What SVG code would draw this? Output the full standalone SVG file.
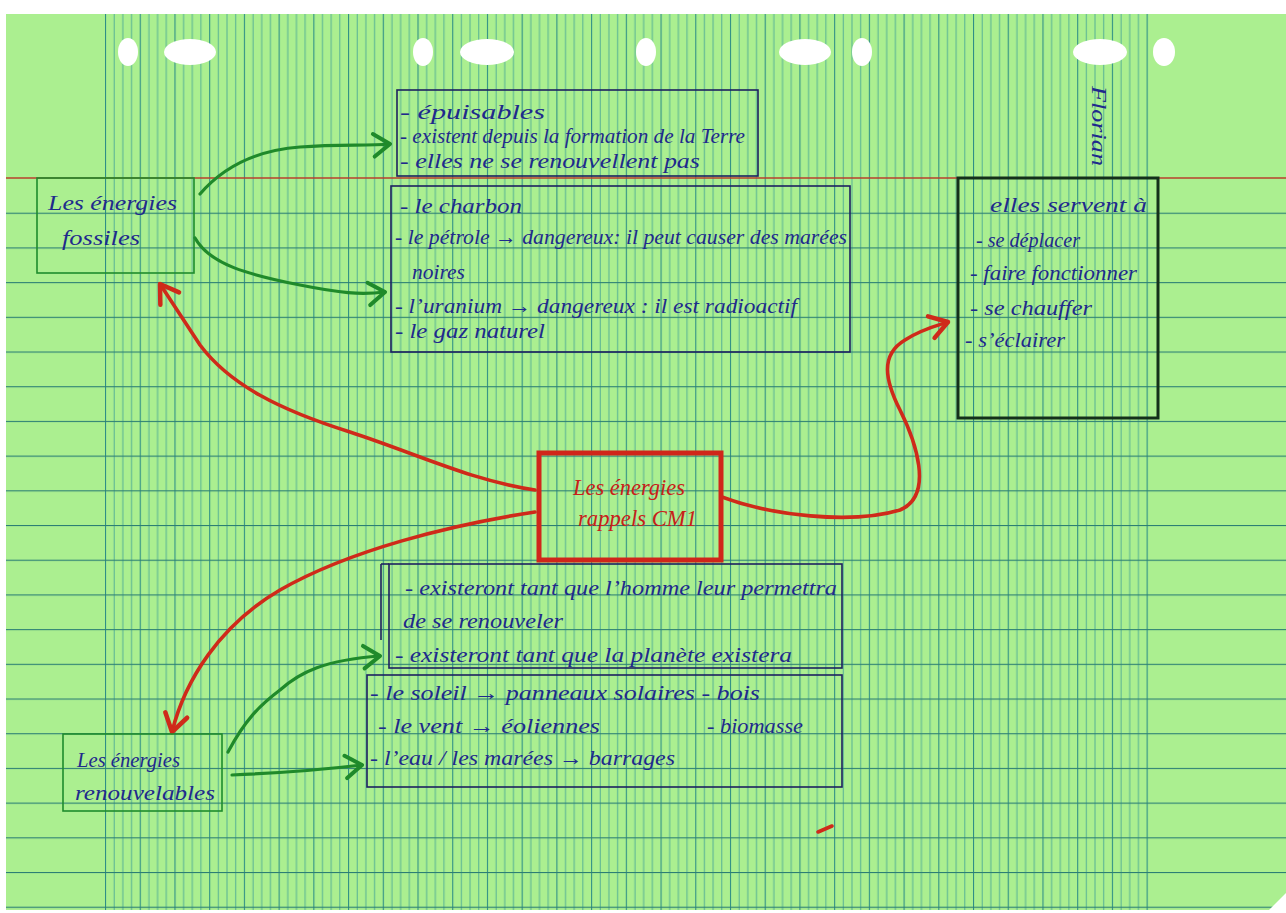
<svg xmlns="http://www.w3.org/2000/svg" width="1286" height="913" viewBox="0 0 1286 913">
<defs>
<style>
.ink{font-family:"Liberation Serif","DejaVu Serif",serif;font-style:italic;fill:#1f2a8c;font-size:21px}
.red{font-family:"Liberation Serif","DejaVu Serif",serif;font-style:italic;fill:#c8201a;font-size:23px}
.navybox{fill:none;stroke:#1d2160;stroke-width:1.6}
.greenbox{fill:none;stroke:#1f8c2c;stroke-width:1.6}
.g{fill:none;stroke:#1f8a2a;stroke-width:3.2;stroke-linecap:round;stroke-linejoin:round}
.r{fill:none;stroke:#cf2a1a;stroke-width:3.6;stroke-linecap:round;stroke-linejoin:round}
.hole{fill:#ffffff}
</style>
<pattern id="vlines" patternUnits="userSpaceOnUse" x="105" y="0" width="34.72" height="20">
<line x1="0.5" y1="0" x2="0.5" y2="20" stroke="#2f8f86" stroke-width="1.2"/>
<line x1="9.18" y1="0" x2="9.18" y2="20" stroke="#4aa896" stroke-width="0.9"/>
<line x1="17.86" y1="0" x2="17.86" y2="20" stroke="#4aa896" stroke-width="0.9"/>
<line x1="26.54" y1="0" x2="26.54" y2="20" stroke="#4aa896" stroke-width="0.9"/>
</pattern>
<pattern id="hlines" patternUnits="userSpaceOnUse" x="0" y="178" width="20" height="34.7">
<line x1="0" y1="0.5" x2="20" y2="0.5" stroke="#2c7f74" stroke-width="1.2"/>
</pattern>
<marker id="ag" markerUnits="userSpaceOnUse" markerWidth="30" markerHeight="30" refX="0" refY="0" viewBox="-16 -12 20 24" orient="auto">
<path d="M-13,-9 L0,0 L-13,9" fill="none" stroke="#1f8a2a" stroke-width="3.2" stroke-linecap="round" stroke-linejoin="round"/>
</marker>
<marker id="ar" markerUnits="userSpaceOnUse" markerWidth="30" markerHeight="30" refX="0" refY="0" viewBox="-16 -12 20 24" orient="auto">
<path d="M-14,-9 L0,0 L-14,9" fill="none" stroke="#cf2a1a" stroke-width="3.6" stroke-linecap="round" stroke-linejoin="round"/>
</marker>
</defs>

<g id="paper">
<rect x="0" y="0" width="1286" height="913" fill="#ffffff"/>
<rect x="6" y="14" width="1280" height="896" fill="#abef90"/>
<rect x="105" y="14" width="1049" height="896" fill="url(#vlines)"/>
<rect x="6" y="212" width="1280" height="698" fill="url(#hlines)"/>
<line x1="6" y1="178" x2="1286" y2="178" stroke="#b8402c" stroke-width="1.4"/>
<ellipse class="hole" cx="128" cy="52" rx="10" ry="14"/>
<ellipse class="hole" cx="190" cy="52" rx="26" ry="13"/>
<ellipse class="hole" cx="423" cy="52" rx="10" ry="14"/>
<ellipse class="hole" cx="487" cy="52" rx="27" ry="13"/>
<ellipse class="hole" cx="646" cy="52" rx="10" ry="14"/>
<ellipse class="hole" cx="805" cy="52" rx="26" ry="13"/>
<ellipse class="hole" cx="862" cy="52" rx="10" ry="14"/>
<ellipse class="hole" cx="1100" cy="52" rx="27" ry="13"/>
<ellipse class="hole" cx="1164" cy="52" rx="11" ry="14"/>
<polygon points="1266,913 1286,893 1286,913" fill="#ffffff"/>
</g>

<g id="connectors">
<path class="g" d="M200,194 C225,165 260,150 300,147 C340,144 365,146 390,144" marker-end="url(#ag)"/>
<path class="g" d="M195,238 C210,265 250,275 300,285 C340,293 360,295 385,292" marker-end="url(#ag)"/>
<path class="g" d="M228,752 C245,720 260,705 280,690 C300,672 325,660 380,656" marker-end="url(#ag)"/>
<path class="g" d="M232,775 C280,773 320,770 362,765" marker-end="url(#ag)"/>
<path class="r" d="M535,490 C470,480 420,455 350,432 C280,410 230,385 200,345 C185,322 172,302 160,284" marker-end="url(#ar)"/>
<path class="r" d="M535,512 C450,525 350,550 280,590 C220,625 185,680 172,732" marker-end="url(#ar)"/>
<path class="r" d="M722,497 C770,515 850,525 900,510 C935,495 915,440 900,410 C885,380 880,355 905,340 C920,330 935,326 948,322" marker-end="url(#ar)"/>
<path class="r" d="M818,832 L832,826" stroke-width="3"/>
</g>

<g id="fossiles">
<rect class="greenbox" x="37" y="178" width="157" height="95"/>
<text class="ink" x="48" y="210" font-size="23" textLength="129" lengthAdjust="spacingAndGlyphs">Les énergies</text>
<text class="ink" x="62" y="245" font-size="23" textLength="78" lengthAdjust="spacingAndGlyphs">fossiles</text>
</g>

<g id="proprietes-fossiles">
<rect class="navybox" x="397" y="90" width="361" height="86"/>
<text class="ink" x="400" y="119" font-size="25" textLength="145" lengthAdjust="spacingAndGlyphs">- épuisables</text>
<text class="ink" x="400" y="143" font-size="20" textLength="345" lengthAdjust="spacingAndGlyphs">- existent depuis la formation de la Terre</text>
<text class="ink" x="400" y="168" font-size="22" textLength="300" lengthAdjust="spacingAndGlyphs">- elles ne se renouvellent pas</text>
</g>

<g id="exemples-fossiles">
<rect class="navybox" x="391" y="186" width="459" height="166"/>
<text class="ink" x="400" y="213" font-size="23" textLength="122" lengthAdjust="spacingAndGlyphs">- le charbon</text>
<text class="ink" x="395" y="244" font-size="21" textLength="452" lengthAdjust="spacingAndGlyphs">- le pétrole → dangereux: il peut causer des marées</text>
<text class="ink" x="412" y="279" font-size="21" textLength="53" lengthAdjust="spacingAndGlyphs">noires</text>
<text class="ink" x="395" y="313" font-size="21" textLength="402" lengthAdjust="spacingAndGlyphs">- l’uranium → dangereux : il est radioactif</text>
<text class="ink" x="395" y="338" font-size="21" textLength="150" lengthAdjust="spacingAndGlyphs">- le gaz naturel</text>
</g>

<g id="usages">
<rect x="958" y="178" width="200" height="240" fill="none" stroke="#14301a" stroke-width="3"/>
<text class="ink" x="990" y="212" font-size="23" textLength="157" lengthAdjust="spacingAndGlyphs">elles servent à</text>
<text class="ink" x="976" y="247" font-size="21" textLength="104" lengthAdjust="spacingAndGlyphs">- se déplacer</text>
<text class="ink" x="970" y="280" font-size="21" textLength="167" lengthAdjust="spacingAndGlyphs">- faire fonctionner</text>
<text class="ink" x="970" y="315" font-size="22" textLength="122" lengthAdjust="spacingAndGlyphs">- se chauffer</text>
<text class="ink" x="965" y="347" font-size="21" textLength="100" lengthAdjust="spacingAndGlyphs">- s’éclairer</text>
</g>

<g id="centre">
<rect x="539" y="453" width="182" height="107" fill="none" stroke="#d0261a" stroke-width="5"/>
<text class="red" x="573" y="495" textLength="112" lengthAdjust="spacingAndGlyphs">Les énergies</text>
<text class="red" x="578" y="526" textLength="119" lengthAdjust="spacingAndGlyphs">rappels CM1</text>
</g>

<g id="proprietes-renouvelables">
<rect class="navybox" x="389" y="564" width="453" height="104"/>
<line x1="381" y1="564" x2="389" y2="564" stroke="#1d2160" stroke-width="1.6"/>
<line x1="381" y1="564" x2="381" y2="640" stroke="#1d2160" stroke-width="1.6"/>
<text class="ink" x="405" y="595" font-size="22" textLength="432" lengthAdjust="spacingAndGlyphs">- existeront tant que l’homme leur permettra</text>
<text class="ink" x="403" y="628" font-size="22" textLength="160" lengthAdjust="spacingAndGlyphs">de se renouveler</text>
<text class="ink" x="395" y="662" font-size="22" textLength="397" lengthAdjust="spacingAndGlyphs">- existeront tant que la planète existera</text>
</g>

<g id="exemples-renouvelables">
<rect class="navybox" x="367" y="675" width="475" height="112"/>
<text class="ink" x="370" y="700" font-size="22" textLength="390" lengthAdjust="spacingAndGlyphs">- le soleil → panneaux solaires - bois</text>
<text class="ink" x="378" y="733" font-size="22" textLength="222" lengthAdjust="spacingAndGlyphs">- le vent → éoliennes</text>
<text class="ink" x="707" y="733" font-size="22" textLength="96" lengthAdjust="spacingAndGlyphs">- biomasse</text>
<text class="ink" x="370" y="765" font-size="22" textLength="305" lengthAdjust="spacingAndGlyphs">- l’eau / les marées → barrages</text>
</g>

<g id="renouvelables">
<rect class="greenbox" x="63" y="734" width="159" height="77"/>
<text class="ink" x="77" y="767" font-size="21" textLength="103" lengthAdjust="spacingAndGlyphs">Les énergies</text>
<text class="ink" x="75" y="800" font-size="23" textLength="140" lengthAdjust="spacingAndGlyphs">renouvelables</text>
</g>

<g id="signature">
<text class="ink" x="0" y="0" transform="translate(1092,86) rotate(90)" font-size="24" textLength="80" lengthAdjust="spacingAndGlyphs">Florian</text>
</g>
</svg>
